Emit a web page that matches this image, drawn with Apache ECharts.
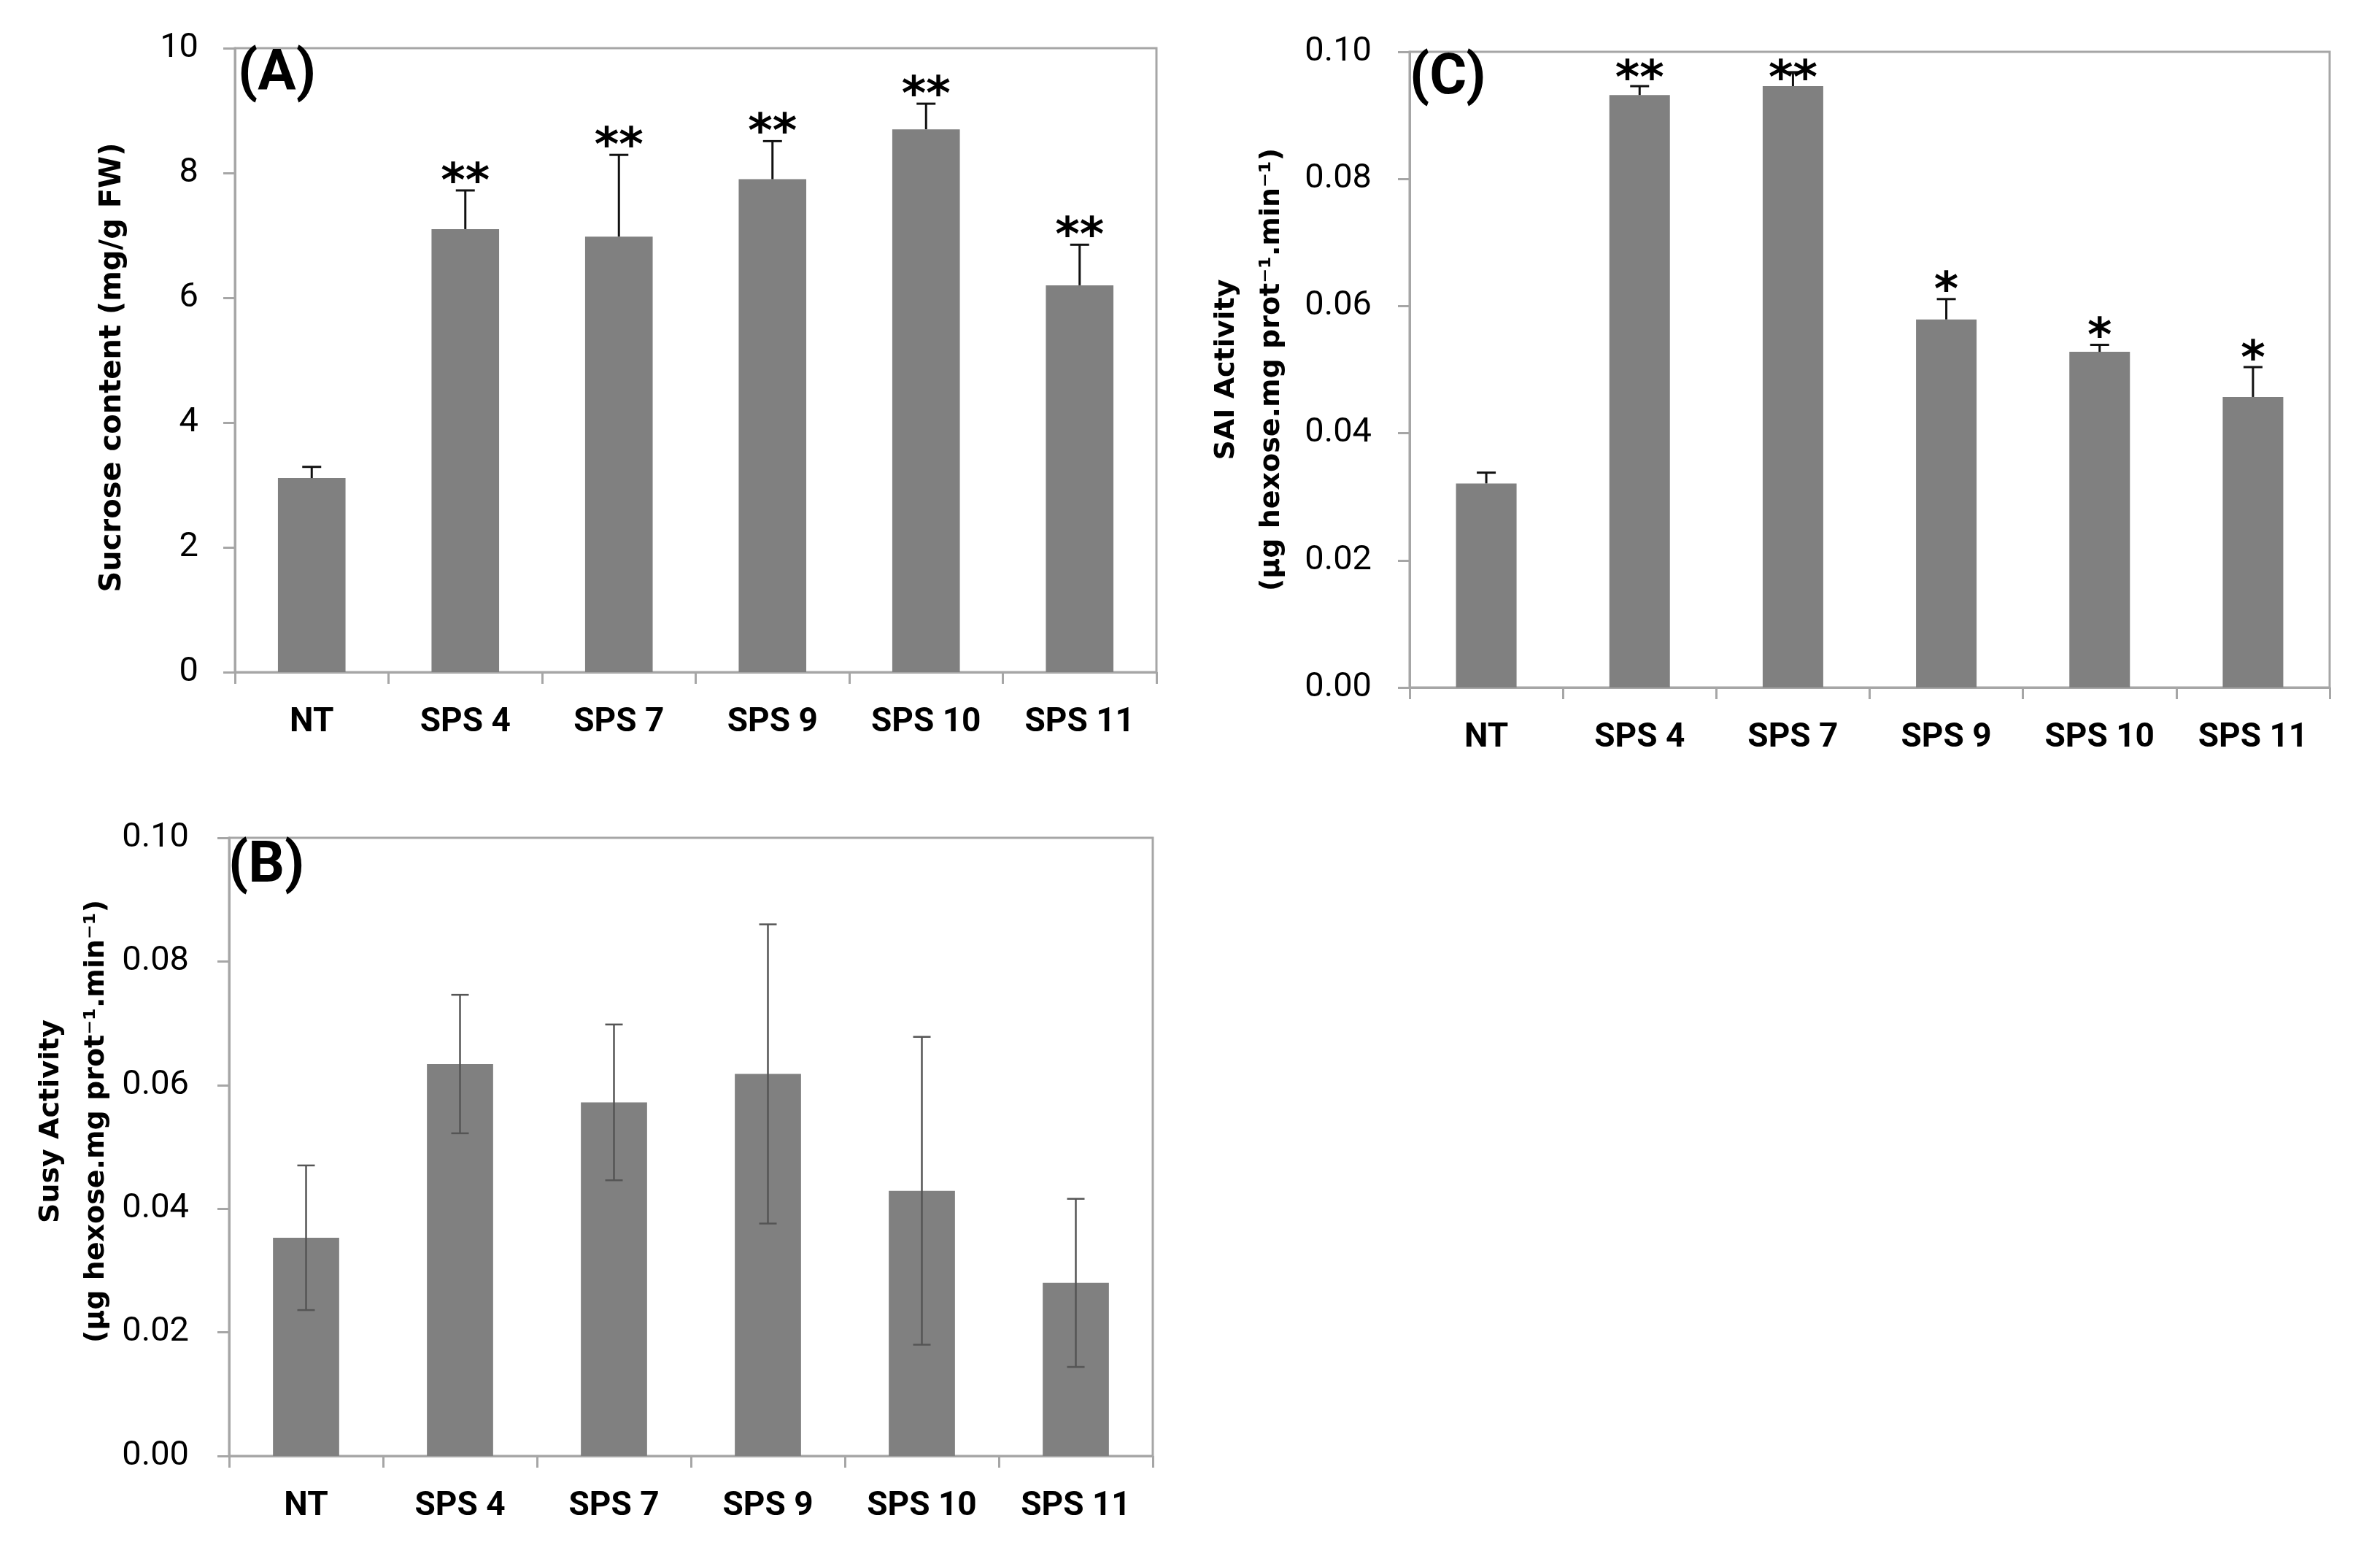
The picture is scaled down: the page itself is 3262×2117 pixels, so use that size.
<!DOCTYPE html>
<html>
<head>
<meta charset="utf-8">
<script src="https://cdn.jsdelivr.net/npm/echarts@6/dist/echarts.min.js"></script>
<style>
html,body{margin:0;padding:0;background:#fff;}
#chart{width:3262px;height:2117px;}
</style>
</head>
<body>
<div id="chart"></div>
<script>
// ---------- data ----------
const categories = ['NT', 'SPS 4', 'SPS 7', 'SPS 9', 'SPS 10', 'SPS 11'];

// (A) Sucrose content (mg/g FW), + one-sided error
const sucrose = [3.11, 7.10, 6.98, 7.90, 8.70, 6.20];
const sucroseErr = [0.18, 0.62, 1.31, 0.61, 0.41, 0.65];
const sucroseSig = ['', '**', '**', '**', '**', '**'];

// (C) SAI activity, + one-sided error
const sai = [0.0321, 0.0932, 0.0946, 0.0579, 0.0528, 0.0457];
const saiErr = [0.0017, 0.0014, 0.0022, 0.0032, 0.0011, 0.0047];
const saiSig = ['', '**', '**', '*', '*', '*'];

// (B) Susy activity, symmetric error
const susy = [0.0353, 0.0634, 0.0572, 0.0618, 0.0429, 0.0280];
const susyErr = [0.0117, 0.0112, 0.0126, 0.0242, 0.0249, 0.0136];

const ticksA = [0, 2, 4, 6, 8, 10];
const ticksBC = [0, 0.02, 0.04, 0.06, 0.08, 0.10];

// ---------- helpers ----------
const AX = '#a6a6a6';
const BAR = '#808080';

function errData(vals, errs, sigs, symmetric) {
  return vals.map((v, i) => [i, symmetric ? v - errs[i] : v, v + errs[i], sigs ? sigs[i] : '']);
}

function makeErrRender(opt) {
  return function (params, api) {
    const i = api.value(0);
    const lo = api.coord([i, api.value(1)]);
    const hi = api.coord([i, api.value(2)]);
    const sig = opt.sigs ? opt.sigs[i] : '';
    const hw = opt.capHalf;
    const ls = { stroke: opt.color, lineWidth: opt.lineWidth };
    const children = [
      { type: 'line', shape: { x1: hi[0], y1: lo[1], x2: hi[0], y2: hi[1] }, style: ls },
      { type: 'line', shape: { x1: hi[0] - hw, y1: hi[1], x2: hi[0] + hw, y2: hi[1] }, style: ls }
    ];
    if (opt.symmetric) {
      children.push({ type: 'line', shape: { x1: lo[0] - hw, y1: lo[1], x2: lo[0] + hw, y2: lo[1] }, style: ls });
    }
    if (sig) {
      const top = params.coordSys.y;
      const cy = Math.max(hi[1] - opt.starGap, top + 26);
      children.push({
        type: 'text',
        style: {
          text: sig, x: hi[0], y: cy + 14,
          fill: '#000', font: 'bold 64px "DejaVu Sans"',
          align: 'center', verticalAlign: 'middle'
        },
        z2: 10
      });
    }
    return { type: 'group', children: children };
  };
}

function xAxis(gi) {
  return {
    type: 'category', gridIndex: gi, data: categories,
    axisLine: { show: true, lineStyle: { color: AX, width: 3 } },
    axisTick: { show: true, interval: 0, length: 16, lineStyle: { color: AX, width: 3 } },
    axisLabel: { interval: 0, margin: 46, color: '#000', fontFamily: 'Roboto', fontWeight: 'bold', fontSize: 46 },
    splitLine: { show: false }
  };
}

function yAxis(gi, max, interval, dec, name, nameGap, labelMargin, nameSize, namePad) {
  return {
    type: 'value', gridIndex: gi, min: 0, max: max, interval: interval,
    name: name, nameLocation: 'middle', nameRotate: 90, nameGap: nameGap,
    nameTextStyle: { color: '#000', fontFamily: 'DejaVu Sans', fontWeight: 'bold', fontSize: nameSize, lineHeight: 62, padding: namePad },
    axisLine: { show: true, lineStyle: { color: AX, width: 3 } },
    axisTick: { show: true, length: 16, lineStyle: { color: AX, width: 3 } },
    axisLabel: { margin: labelMargin, color: '#000', fontFamily: 'Roboto', fontSize: 47,
      formatter: v => v.toFixed(dec) },
    splitLine: { show: false }
  };
}

const chart = echarts.init(document.getElementById('chart'), null, { renderer: 'canvas' });

const option = {
  animation: false,
  backgroundColor: '#fff',
  title: [
    { text: '(A)', left: 326, top: 64, padding: 0, textStyle: { fontFamily: 'Roboto', fontWeight: 'bold', fontSize: 78, color: '#000' } },
    { text: '(C)', left: 1932, top: 69, padding: 0, textStyle: { fontFamily: 'Roboto', fontWeight: 'bold', fontSize: 78, color: '#000' } },
    { text: '(B)', left: 313, top: 1149, padding: 0, textStyle: { fontFamily: 'Roboto', fontWeight: 'bold', fontSize: 78, color: '#000' } }
  ],
  grid: [
    { left: 322, top: 66, width: 1263, height: 855, show: true, borderColor: AX, borderWidth: 3, containLabel: false },
    { left: 1932, top: 71, width: 1261, height: 871, show: true, borderColor: AX, borderWidth: 3, containLabel: false },
    { left: 314, top: 1148, width: 1266, height: 847, show: true, borderColor: AX, borderWidth: 3, containLabel: false }
  ],
  xAxis: [xAxis(0), xAxis(1), xAxis(2)],
  yAxis: [
    yAxis(0, ticksA[ticksA.length - 1], ticksA[1] - ticksA[0], 0, 'Sucrose content (mg/g FW)', 136, 50, 40, [0, 20, 0, 0]),
    yAxis(1, ticksBC[ticksBC.length - 1], ticksBC[1] - ticksBC[0], 2, 'SAI Activity\n(µg hexose.mg prot⁻¹.min⁻¹)', 158, 52, 38, 0),
    yAxis(2, ticksBC[ticksBC.length - 1], ticksBC[1] - ticksBC[0], 2, 'Susy Activity\n(µg hexose.mg prot⁻¹.min⁻¹)', 150, 55, 38, [0, 0, 0, 70])
  ],
  series: [
    { type: 'bar', xAxisIndex: 0, yAxisIndex: 0, data: sucrose, barWidth: '44%', itemStyle: { color: BAR } },
    { type: 'custom', xAxisIndex: 0, yAxisIndex: 0, data: errData(sucrose, sucroseErr, sucroseSig, false),
      renderItem: makeErrRender({ color: '#111', lineWidth: 3, capHalf: 13, symmetric: false, sigs: sucroseSig, starGap: 23 }), z: 5 },

    { type: 'bar', xAxisIndex: 1, yAxisIndex: 1, data: sai, barWidth: '39.5%', itemStyle: { color: BAR } },
    { type: 'custom', xAxisIndex: 1, yAxisIndex: 1, data: errData(sai, saiErr, saiSig, false),
      renderItem: makeErrRender({ color: '#111', lineWidth: 3, capHalf: 13, symmetric: false, sigs: saiSig, starGap: 22 }), z: 5 },

    { type: 'bar', xAxisIndex: 2, yAxisIndex: 2, data: susy, barWidth: '43%', itemStyle: { color: BAR } },
    { type: 'custom', xAxisIndex: 2, yAxisIndex: 2, data: errData(susy, susyErr, null, true),
      renderItem: makeErrRender({ color: '#555', lineWidth: 2.5, capHalf: 12, symmetric: true, sigs: null, starGap: 0 }), z: 5 }
  ]
};

chart.setOption(option);
</script>
</body>
</html>
